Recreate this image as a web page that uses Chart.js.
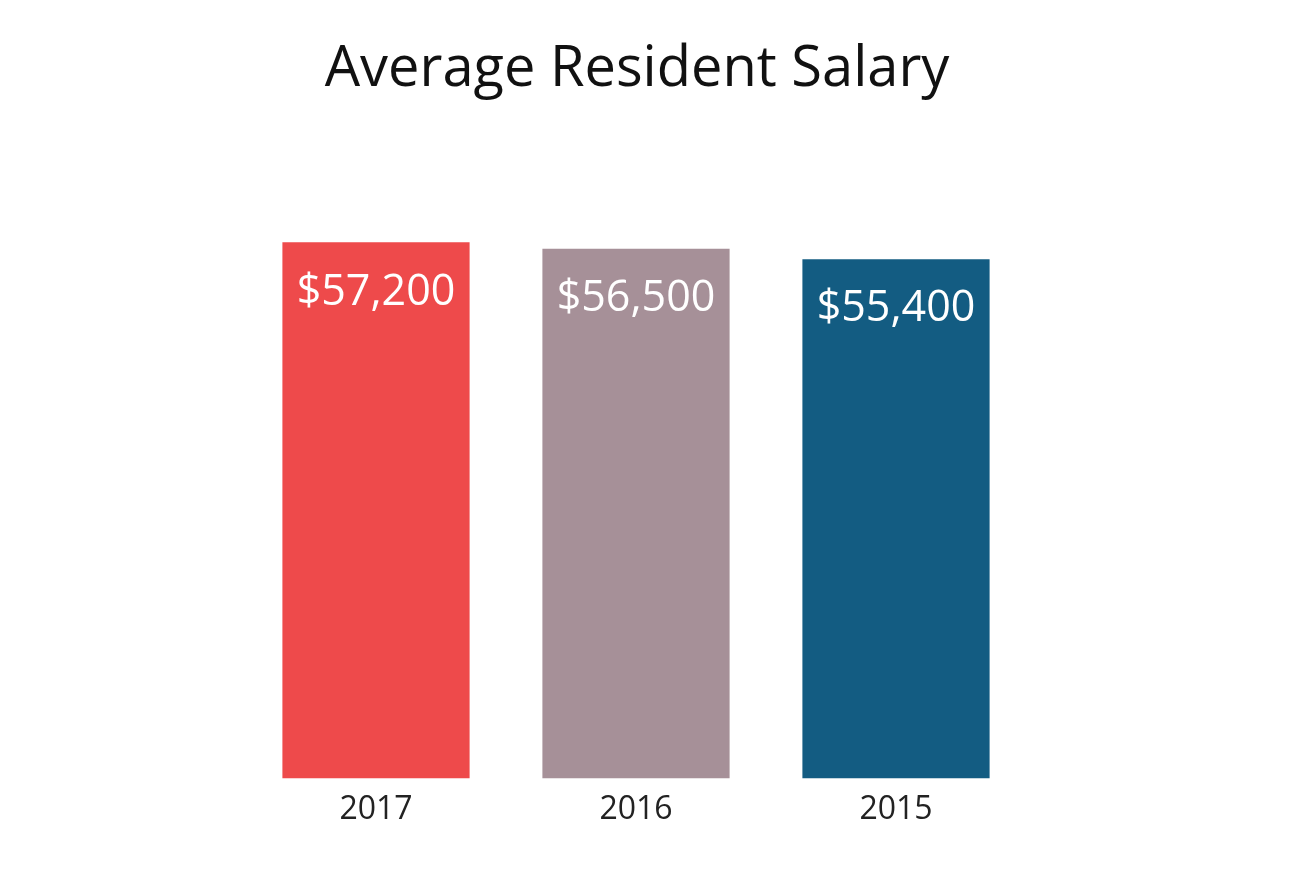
<!DOCTYPE html>
<html>
<head>
<meta charset="utf-8">
<script src="https://cdn.jsdelivr.net/npm/chart.js@4"></script>
<style>
  html, body { margin: 0; padding: 0; background: #fff; }
  #wrap { width: 1290px; height: 878px; }
</style>
</head>
<body>
<div id="wrap"><canvas id="salary"></canvas></div>
<script>
const years = ['2017', '2016', '2015']
const salaries = [57200, 56500, 55400]
const barColors = ['#EE4A4B', '#A69098', '#135C82']
const chartTitle = 'Average Resident Salary'

const fontFamily = '"Open Sans", "Noto Sans", sans-serif'

// title and in-bar value labels
const labelPlugin = {
    id: 'labels',
    afterDatasetsDraw: function (chart) {
        const ctx = chart.ctx
        ctx.save()
        ctx.fillStyle = '#111'
        ctx.font = '56px ' + fontFamily
        ctx.textAlign = 'center'
        ctx.textBaseline = 'middle'
        ctx.fillText(chartTitle, 637, 70)

        ctx.fillStyle = '#fff'
        ctx.font = '43px ' + fontFamily
        chart.getDatasetMeta(0).data.forEach(function (bar, i) {
            ctx.fillText('$' + salaries[i].toLocaleString('en-US'), bar.x, bar.y + 50)
        })
        ctx.restore()
    }
}

new Chart(document.getElementById('salary'), {
    type: 'bar',
    data: {
        labels: years,
        datasets: [{
            data: salaries,
            backgroundColor: barColors,
            barPercentage: 0.72,
            categoryPercentage: 1
        }]
    },
    options: {
        responsive: true,
        maintainAspectRatio: false,
        animation: false,
        layout: { padding: { top: 216, left: 246, right: 264, bottom: 45 } },
        plugins: { legend: { display: false }, tooltip: { enabled: false } },
        scales: {
            x: {
                grid: { display: false },
                border: { display: false },
                ticks: { color: '#222', padding: 4, font: { size: 32, family: fontFamily } }
            },
            y: { display: false, min: 0, max: 60000 }
        }
    },
    plugins: [labelPlugin]
})
</script>
</body>
</html>
